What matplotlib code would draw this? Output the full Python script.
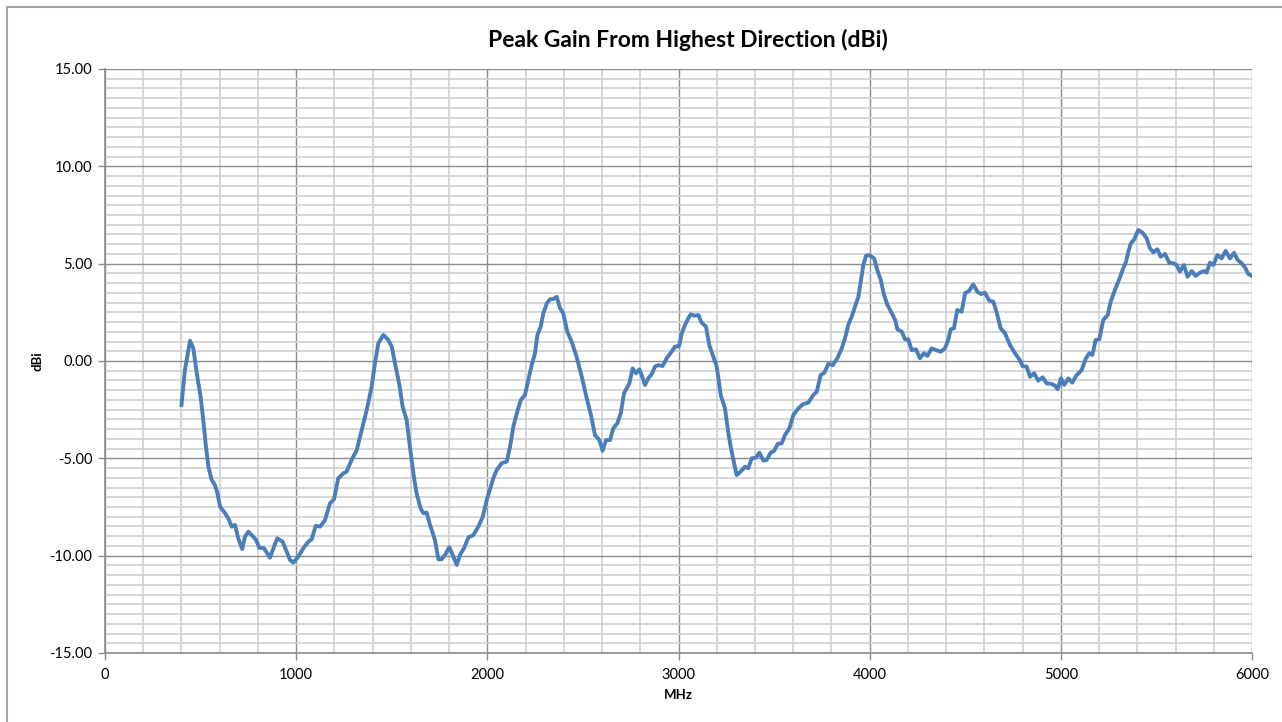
import numpy as np
import matplotlib.pyplot as plt
from matplotlib.ticker import MultipleLocator, FormatStrFormatter
from matplotlib.lines import Line2D

# --------------------------------------- data ---------------------------------------
mhz = [400, 418, 445, 462, 480, 500, 514, 528, 541, 558, 575, 588, 602, 628, 645, 663,
       680, 697, 718, 732, 750, 772, 790, 807, 832, 849, 863, 884, 901, 929, 947, 968,
       985, 1011, 1037, 1064, 1081, 1102, 1125, 1151, 1177, 1198, 1220, 1247, 1264, 1290,
       1317, 1343, 1369, 1395, 1412, 1430, 1456, 1482, 1500, 1517, 1540, 1557, 1578, 1595,
       1613, 1630, 1651, 1665, 1683, 1700, 1726, 1744, 1761, 1779, 1801, 1819, 1840, 1857,
       1878, 1901, 1927, 1953, 1976, 1997, 2031, 2049, 2075, 2101, 2119, 2136, 2154, 2175,
       2197, 2214, 2232, 2249, 2262, 2279, 2293, 2311, 2328, 2345, 2363, 2380, 2397, 2418,
       2441, 2467, 2494, 2520, 2542, 2563, 2586, 2603, 2621, 2642, 2659, 2680, 2698, 2715,
       2729, 2743, 2760, 2778, 2795, 2807, 2825, 2842, 2860, 2877, 2894, 2917, 2938, 2964,
       2982, 3003, 3017, 3034, 3051, 3064, 3081, 3104, 3121, 3144, 3161, 3182, 3200, 3221,
       3243, 3261, 3273, 3287, 3304, 3325, 3348, 3365, 3383, 3405, 3423, 3444, 3461, 3482,
       3500, 3519, 3540, 3557, 3580, 3601, 3627, 3653, 3679, 3705, 3723, 3744, 3763, 3784,
       3807, 3831, 3854, 3871, 3888, 3906, 3923, 3941, 3955, 3967, 3981, 3998, 4023, 4040,
       4058, 4075, 4093, 4116, 4133, 4145, 4168, 4185, 4202, 4220, 4242, 4263, 4284, 4302,
       4324, 4347, 4372, 4394, 4411, 4424, 4441, 4458, 4481, 4499, 4521, 4542, 4563, 4582,
       4603, 4626, 4647, 4668, 4685, 4708, 4734, 4760, 4783, 4800, 4821, 4839, 4860, 4882,
       4905, 4926, 4952, 4970, 4983, 5001, 5018, 5039, 5060, 5083, 5109, 5131, 5149, 5165,
       5182, 5201, 5222, 5245, 5261, 5283, 5304, 5323, 5341, 5353, 5366, 5384, 5405, 5428,
       5449, 5466, 5484, 5505, 5522, 5545, 5567, 5589, 5606, 5623, 5644, 5663, 5685, 5705,
       5728, 5749, 5763, 5780, 5798, 5819, 5841, 5862, 5885, 5906, 5925, 5946, 5963, 5981,
       6000]
gain = [-2.26, -0.46, 1.04, 0.65, -0.63, -1.83, -3.03, -4.40, -5.43, -6.11, -6.37, -6.80,
        -7.48, -7.82, -8.08, -8.51, -8.42, -9.11, -9.66, -9.02, -8.77, -8.99, -9.19, -9.59,
        -9.62, -9.88, -10.10, -9.54, -9.11, -9.28, -9.71, -10.22, -10.36, -10.05, -9.62,
        -9.28, -9.16, -8.47, -8.51, -8.17, -7.31, -7.10, -6.03, -5.77, -5.68, -5.08, -4.57,
        -3.54, -2.52, -1.32, -0.12, 0.91, 1.34, 1.08, 0.74, -0.12, -1.23, -2.35, -3.03,
        -4.40, -5.77, -6.80, -7.57, -7.82, -7.79, -8.42, -9.19, -10.19, -10.19, -9.96,
        -9.57, -9.96, -10.48, -9.96, -9.62, -9.06, -8.94, -8.51, -8.00, -7.14, -6.03, -5.60,
        -5.25, -5.17, -4.40, -3.37, -2.69, -2.00, -1.75, -0.98, -0.21, 0.39, 1.34, 1.76,
        2.45, 2.96, 3.17, 3.18, 3.30, 2.71, 2.45, 1.51, 0.99, 0.22, -0.81, -1.92, -2.77,
        -3.80, -4.06, -4.61, -4.06, -4.06, -3.46, -3.20, -2.69, -1.66, -1.40, -1.15, -0.38,
        -0.63, -0.43, -0.72, -1.23, -0.89, -0.67, -0.29, -0.21, -0.26, 0.14, 0.48, 0.74,
        0.77, 1.42, 1.85, 2.19, 2.40, 2.33, 2.36, 1.97, 1.76, 0.82, 0.22, -0.29, -1.75,
        -2.43, -3.71, -4.40, -5.08, -5.86, -5.68, -5.43, -5.51, -5.00, -4.97, -4.71, -5.12,
        -5.08, -4.71, -4.62, -4.26, -4.23, -3.80, -3.46, -2.77, -2.43, -2.21, -2.14, -1.75,
        -1.58, -0.72, -0.60, -0.15, -0.21, 0.14, 0.65, 1.17, 1.85, 2.28, 2.79, 3.30, 4.16,
        4.93, 5.41, 5.44, 5.27, 4.67, 4.16, 3.39, 2.88, 2.45, 2.11, 1.63, 1.51, 1.11, 1.11,
        0.56, 0.60, 0.14, 0.40, 0.26, 0.65, 0.56, 0.48, 0.65, 1.08, 1.63, 1.68, 2.62, 2.53,
        3.48, 3.61, 3.94, 3.56, 3.44, 3.51, 3.10, 3.05, 2.36, 1.68, 1.42, 0.82, 0.40, 0.09,
        -0.26, -0.29, -0.81, -0.63, -1.01, -0.84, -1.15, -1.18, -1.27, -1.45, -0.89, -1.23,
        -0.89, -1.11, -0.72, -0.46, 0.14, 0.40, 0.31, 1.08, 1.11, 2.11, 2.36, 3.05, 3.65,
        4.16, 4.67, 5.10, 5.61, 6.04, 6.25, 6.73, 6.59, 6.30, 5.79, 5.58, 5.74, 5.36, 5.50,
        5.05, 5.02, 4.93, 4.59, 4.93, 4.33, 4.62, 4.37, 4.54, 4.62, 4.54, 5.05, 4.93, 5.44,
        5.27, 5.65, 5.27, 5.56, 5.19, 5.02, 4.81, 4.47, 4.37]

plt.rcParams['font.family'] = ['Lato', 'DejaVu Sans']

fig = plt.figure(figsize=(12.82, 7.22), dpi=100)
ax = fig.add_axes([105/1282, 1-653/722, (1252-105)/1282, (653-69)/722])

# outer chart border (top and left only visible)
fig.add_artist(Line2D([7/1282, 1.0], [1-7/722, 1-7/722], color='#a6a6a6', lw=1.5))
fig.add_artist(Line2D([7/1282, 7/1282], [0.0, 1-7/722], color='#a6a6a6', lw=1.5))

ax.plot(mhz, gain, color='#4a7ebb', lw=2.8, solid_joinstyle='round', zorder=3)

ax.set_xlim(0, 6000)
ax.set_ylim(-15, 15)
ax.xaxis.set_major_locator(MultipleLocator(1000))
ax.xaxis.set_minor_locator(MultipleLocator(200))
ax.yaxis.set_major_locator(MultipleLocator(5))
ax.yaxis.set_minor_locator(MultipleLocator(0.5))
ax.yaxis.set_major_formatter(FormatStrFormatter('%.2f'))

ax.grid(which='minor', color='#d0d0d0', lw=1.2)
ax.grid(which='major', color='#8c8c8c', lw=1.0)
ax.set_axisbelow(True)

for s in ['top', 'right']:
    ax.spines[s].set_visible(False)
for s in ['left', 'bottom']:
    ax.spines[s].set_color('#8c8c8c')
    ax.spines[s].set_linewidth(1.2)

ax.tick_params(which='major', length=5, width=1, color='#8c8c8c', labelsize=10.5,
               labelcolor='black', pad=4)
ax.tick_params(which='minor', length=0)
ax.tick_params(axis='x', pad=6)

fig.text(688/1282, 1-40/722, 'Peak Gain From Highest Direction (dBi)', ha='center',
         va='center', fontsize=16.5, fontweight='bold')
fig.text(678/1282, 1-695/722, 'MHz', ha='center', va='center', fontsize=9.5, fontweight='bold')
fig.text(37/1282, 1-361/722, 'dBi', ha='center', va='center', rotation=90, fontsize=9.5,
         fontweight='bold')

fig.savefig('out.png', dpi=100)
